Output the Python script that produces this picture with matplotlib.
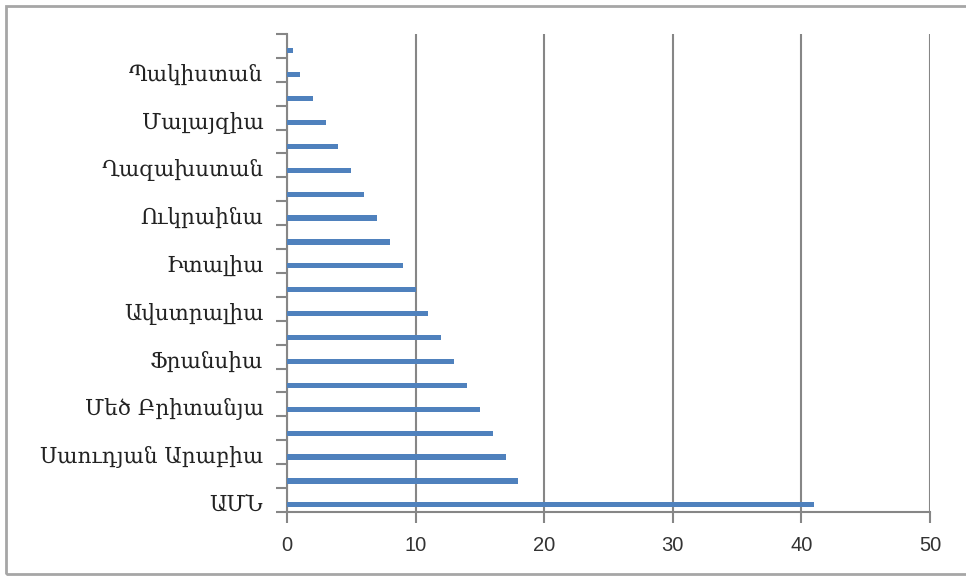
import numpy as np
import matplotlib.pyplot as plt
from matplotlib.patches import Rectangle

# bottom to top
countries = ['ԱՄՆ', '', 'Սաուդյան Արաբիա', '', 'Մեծ Բրիտանյա', '', 'Ֆրանսիա', '',
             'Ավստրալիա', '', 'Իտալիա', '', 'Ուկրաինա', '', 'Ղազախստան', '',
             'Մալայզիա', '', 'Պակիստան', '']
values = [41, 18, 17, 16, 15, 14, 13, 12, 11, 10, 9, 8, 7, 6, 5, 4, 3, 2, 1, 0.5]
xticks = [0, 10, 20, 30, 40, 50]

W, H = 966, 577
fig = plt.figure(figsize=(W / 100, H / 100), dpi=100)
ax = fig.add_axes([287 / W, 1 - 512 / H, (930 - 287) / W, (512 - 34) / H])

n = len(values)
pos = np.arange(n)
ax.barh(pos - 0.2, values, height=0.22, color='#4F81BD', zorder=3)

ax.set_xlim(0, 50)
ax.set_ylim(-0.5, n - 0.5)
ax.set_xticks(xticks)
ax.set_xticklabels([str(t) for t in xticks], fontsize=14.5, color='#333333',
                   family=['Liberation Sans', 'DejaVu Sans'])
ax.tick_params(axis='x', length=8, width=1.5, color='#868686', pad=9)

# ticks between categories, labels at category centres
ax.set_yticks(np.arange(-0.5, n, 1))
ax.set_yticklabels([])
ax.set_yticks(pos - 0.1, minor=True)
ax.set_yticklabels(countries, minor=True, fontsize=15.5, color='#222222',
                   family=['DejaVu Serif', 'DejaVu Sans'])
ax.tick_params(axis='y', which='major', length=8, width=1.5, color='#868686')
ax.tick_params(axis='y', which='minor', length=0, pad=17)

ax.grid(axis='x', color='#868686', linewidth=1.5, zorder=0)
for s in ['top', 'right']:
    ax.spines[s].set_visible(False)
for s in ['left', 'bottom']:
    ax.spines[s].set_color('#868686')
    ax.spines[s].set_linewidth(1.5)

# chart area border
fig.patches.append(Rectangle((6 / W, 1 - 574 / H), 1.0, (574 - 6) / H,
                             transform=fig.transFigure, fill=False,
                             edgecolor='#a6a6a6', linewidth=2))

fig.savefig('out.png', dpi=100)
